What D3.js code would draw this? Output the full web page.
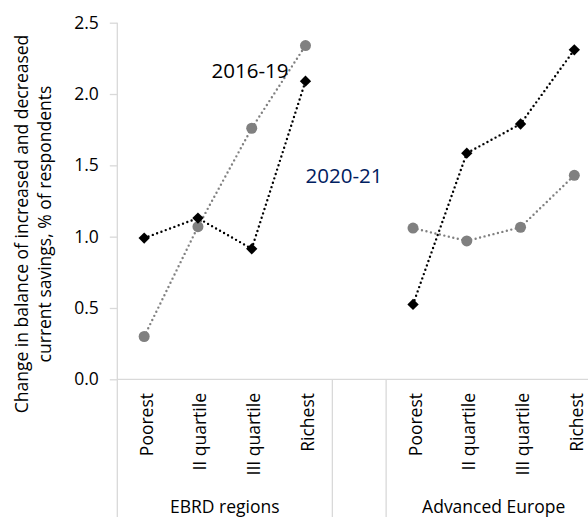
<!DOCTYPE html>
<html>
<head>
<meta charset="utf-8">
<script src="https://cdn.jsdelivr.net/npm/d3@7"></script>
<style>
  body { margin: 0; background: #fff; }
  text { font-family: "Open Sans", sans-serif; fill: #000; }
</style>
</head>
<body>
<div id="chart"></div>
<script>
// chart data

var groups = ["EBRD regions", "Advanced Europe"];
var quartiles = ["Poorest", "II quartile", "III quartile", "Richest"];
var yTicks = [0, 0.5, 1.0, 1.5, 2.0, 2.5];

var ebrd_1619 = [0.99, 1.13, 0.915, 2.09];
var ebrd_2021 = [0.30, 1.07, 1.76, 2.34];
var adv_1619 = [0.525, 1.585, 1.79, 2.31];
var adv_2021 = [1.06, 0.97, 1.066, 1.43];

var width = 588,
  height = 517;

// plot box (right edge runs past the window, as in the original)
var plotLeft = 117.3, plotRight = 601.2, plotTop = 22.7, plotBottom = 379.3;

// slots: 4 per group with an empty slot between groups
var slots = [];
quartiles.forEach(function(q) { slots.push(groups[0] + "|" + q); });
slots.push("gap");
quartiles.forEach(function(q) { slots.push(groups[1] + "|" + q); });

var x = d3.scaleBand()
    .domain(slots)
    .range([plotLeft, plotRight])
    .padding(0);

var y = d3.scaleLinear()
    .domain([0, 2.5])
    .range([plotBottom, plotTop]);

var cx = function(g, q) { return x(g + "|" + q) + x.bandwidth() / 2; };

var svg = d3.select("#chart").append("svg")
    .attr("width", width)
    .attr("height", height);

var axisColor = "#d9d9d9";

// y axis

var yAxis = svg.append("g")
    .attr("transform", "translate(" + plotLeft + ",0)")
    .call(d3.axisLeft(y)
      .tickValues(yTicks)
      .tickFormat(d3.format(".1f"))
      .tickSize(7.5)
      .tickPadding(11));

yAxis.select(".domain").remove();
yAxis.selectAll(".tick line").attr("stroke", axisColor).attr("stroke-width", 1.3);
yAxis.selectAll(".tick text")
    .style("font-size", "17.5px")
    .style("font-family", "'Open Sans', sans-serif")
    .attr("fill", "#000");

// axis lines and category separators

svg.append("line")
    .attr("x1", plotLeft).attr("x2", plotLeft)
    .attr("y1", plotTop).attr("y2", height)
    .attr("stroke", axisColor).attr("stroke-width", 1.3);

svg.append("line")
    .attr("x1", plotLeft).attr("x2", width)
    .attr("y1", plotBottom).attr("y2", plotBottom)
    .attr("stroke", axisColor).attr("stroke-width", 1.3);

[x("gap"), x("gap") + x.bandwidth()].forEach(function(px) {
  svg.append("line")
      .attr("x1", px).attr("x2", px)
      .attr("y1", plotBottom).attr("y2", height)
      .attr("stroke", axisColor).attr("stroke-width", 1.3);
});

// y axis title

var title = svg.append("text")
    .attr("transform", "translate(22,224) rotate(-90)")
    .attr("text-anchor", "middle")
    .style("font-size", "17.5px");

title.append("tspan").attr("x", 0).attr("dy", "0.35em")
    .text("Change in balance of increased and decreased");
title.append("tspan").attr("x", 0).attr("dy", 23)
    .text("current savings, % of respondents");

// category labels

groups.forEach(function(g) {
  quartiles.forEach(function(q) {
    svg.append("text")
        .attr("transform", "translate(" + (cx(g, q) + 8.5) + ",393) rotate(-90)")
        .attr("text-anchor", "end")
        .style("font-size", "17.5px")
        .text(q);
  });
  var gx0 = x(g + "|" + quartiles[0]),
    gx1 = x(g + "|" + quartiles[3]) + x.bandwidth();
  svg.append("text")
      .attr("x", (gx0 + gx1) / 2)
      .attr("y", 513)
      .attr("text-anchor", "middle")
      .style("font-size", "17.5px")
      .text(g);
});

// series

var series = [
  { name: "2020-21", kind: "circle", color: "#808080", data: [ebrd_2021, adv_2021] },
  { name: "2016-19", kind: "diamond", color: "#000000", data: [ebrd_1619, adv_1619] }
];

var line = d3.line()
    .x(function(d) { return cx(d.g, d.q); })
    .y(function(d) { return y(d.v); });

series.forEach(function(s) {
  var layer = svg.append("g").attr("class", "series");
  s.data.forEach(function(vals, gi) {
    var pts = vals.map(function(v, i) { return { g: groups[gi], q: quartiles[i], v: v }; });

    layer.append("path")
        .datum(pts)
        .attr("d", line)
        .attr("fill", "none")
        .attr("stroke", s.color)
        .attr("stroke-width", 2.4)
        .attr("stroke-linecap", "round")
        .attr("stroke-dasharray", "0,4.6");

    if (s.kind == "circle") {
      layer.selectAll(null)
          .data(pts)
          .enter().append("circle")
          .attr("cx", function(d) { return cx(d.g, d.q); })
          .attr("cy", function(d) { return y(d.v); })
          .attr("r", 5.5)
          .attr("fill", s.color);
    } else {
      layer.selectAll(null)
          .data(pts)
          .enter().append("path")
          .attr("transform", function(d) {
            return "translate(" + cx(d.g, d.q) + "," + y(d.v) + ") rotate(45)";
          })
          .attr("d", "M-4,-4H4V4H-4Z")
          .attr("fill", s.color);
    }
  });
});

// series labels

svg.append("text")
    .attr("x", 250)
    .attr("y", 71)
    .attr("dy", "0.35em")
    .attr("text-anchor", "middle")
    .style("font-size", "20.5px")
    .text("2016-19");

svg.append("text")
    .attr("x", 344)
    .attr("y", 175.5)
    .attr("dy", "0.35em")
    .attr("text-anchor", "middle")
    .style("font-size", "20.5px")
    .style("fill", "#002060")
    .text("2020-21");
</script>
</body>
</html>
